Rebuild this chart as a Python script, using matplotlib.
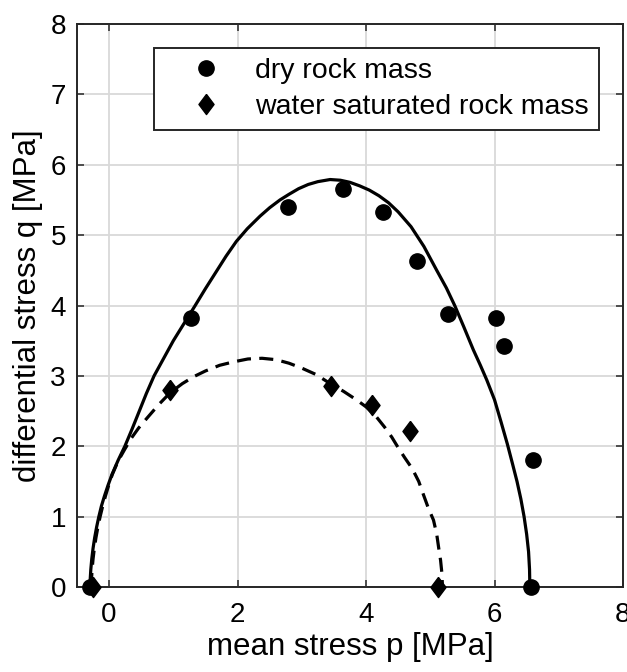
import matplotlib
matplotlib.use("Agg")
import matplotlib.pyplot as plt

plt.rcParams['font.family'] = ['Liberation Sans', 'DejaVu Sans']

# measured data (mean stress p, differential stress q)
dry_p = [-0.30, 1.27, 2.79, 3.64, 4.27, 4.79, 5.28, 6.02, 6.14, 6.60, 6.56]
dry_q = [0.00, 3.82, 5.40, 5.66, 5.33, 4.63, 3.88, 3.82, 3.43, 1.80, 0.00]

wet_p = [-0.25, 0.945, 3.46, 4.09, 4.68, 5.12]
wet_q = [0.00, 2.80, 2.85, 2.585, 2.21, 0.00]

# fitted curves
dry_fit_p = [-0.30, -0.295, -0.285, -0.27, -0.25, -0.225, -0.195, -0.16, -0.12, -0.07,
             -0.015, 0.045, 0.14, 0.245, 0.36, 0.47, 0.58, 0.70, 0.85, 1.00, 1.17, 1.34,
             1.50, 1.66, 1.82, 1.98, 2.15, 2.35, 2.50, 2.66, 2.80, 2.95, 3.10,
             3.25, 3.44, 3.60, 3.75, 3.90, 4.05, 4.20, 4.35, 4.50, 4.70, 4.90,
             5.10, 5.25, 5.38, 5.52, 5.67, 5.78, 5.88, 6.00, 6.10, 6.20, 6.28,
             6.35, 6.41, 6.46, 6.50, 6.53, 6.545, 6.55]
dry_fit_q = [0.00, 0.10, 0.25, 0.40, 0.55, 0.70, 0.85, 1.00, 1.15, 1.30,
             1.45, 1.60, 1.80, 2.00, 2.25, 2.50, 2.75, 3.00, 3.25, 3.50, 3.75, 4.00,
             4.24, 4.47, 4.70, 4.91, 5.09, 5.27, 5.39, 5.50, 5.58, 5.66, 5.72,
             5.76, 5.79, 5.78, 5.75, 5.70, 5.64, 5.56, 5.46, 5.33, 5.12, 4.84,
             4.50, 4.25, 4.00, 3.70, 3.37, 3.15, 2.94, 2.66, 2.35, 2.03, 1.75,
             1.50, 1.25, 1.00, 0.75, 0.50, 0.25, 0.00]

wet_fit_p = [-0.28, -0.275, -0.265, -0.25, -0.23, -0.205, -0.175, -0.14, -0.10, -0.055,
             -0.005, 0.05, 0.14, 0.245, 0.35, 0.46, 0.59, 0.77, 0.95, 1.14, 1.32, 1.50,
             1.72, 1.94, 2.16, 2.38, 2.60, 2.80, 3.00, 3.22, 3.46, 3.65, 3.85,
             4.00, 4.15, 4.29, 4.40, 4.50, 4.60, 4.72, 4.82, 4.89, 4.97, 5.05,
             5.10, 5.13, 5.16, 5.18, 5.19]
wet_fit_q = [0.00, 0.10, 0.25, 0.40, 0.55, 0.70, 0.85, 1.00, 1.15, 1.30,
             1.45, 1.60, 1.79, 1.96, 2.12, 2.26, 2.40, 2.59, 2.76, 2.89, 2.99, 3.07,
             3.15, 3.20, 3.24, 3.25, 3.23, 3.18, 3.11, 3.02, 2.88, 2.78, 2.66,
             2.56, 2.43, 2.27, 2.13, 1.98, 1.84, 1.68, 1.50, 1.32, 1.12, 0.95,
             0.75, 0.56, 0.38, 0.20, 0.00]

legend_labels = ["dry rock mass", "water saturated rock mass"]
x_ticks = [0, 2, 4, 6, 8]
y_ticks = [0, 1, 2, 3, 4, 5, 6, 7, 8]

W, H = 627, 672
fig = plt.figure(figsize=(W / 100, H / 100), dpi=100)
ax = fig.add_axes([77 / W, 1 - 587 / H, (623 - 77) / W, (587 - 24) / H])

dark = '#262626'
diamond = [(0, 1), (0.75, 0), (0, -1), (-0.75, 0), (0, 1)]

ax.plot(dry_fit_p, dry_fit_q, color='black', lw=2.3, solid_joinstyle='round', zorder=3)
ax.plot(wet_fit_p, wet_fit_q, color='black', lw=2.3, dashes=(4.4, 2.6), zorder=3)
ax.plot(dry_p, dry_q, linestyle='none', marker='o', ms=11, color='black',
        label=legend_labels[0], clip_on=False, zorder=4)
ax.plot(wet_p, wet_q, linestyle='none', marker=diamond, ms=14.5, color='black',
        label=legend_labels[1], clip_on=False, zorder=5)

ax.set_xlim(-0.5, 8)
ax.set_ylim(0, 8)
ax.set_xticks(x_ticks)
ax.set_yticks(y_ticks)
ax.grid(True, color='#d9d9d9', lw=1.3)
ax.set_axisbelow(True)
for s in ax.spines.values():
    s.set_color(dark)
    s.set_linewidth(1.4)
ax.tick_params(direction='in', length=5, width=1.1, color=dark, top=True, right=True,
               labelsize=20, labelcolor='black')
ax.tick_params(axis='x', pad=11)
ax.tick_params(axis='y', pad=8)

ax.set_xlabel('mean stress p [MPa]', fontsize=22.5, labelpad=3)
ax.set_ylabel('differential stress q [MPa]', fontsize=22.5, labelpad=5)

leg = ax.legend(loc='upper right', bbox_to_anchor=(0.956, 0.957), borderaxespad=0,
                fontsize=20.5, frameon=True, fancybox=False, numpoints=1,
                handlelength=2.95, handletextpad=0.25, borderpad=0.35,
                labelspacing=0.33)
leg.get_frame().set_edgecolor(dark)
leg.get_frame().set_linewidth(1.4)
leg.get_frame().set_facecolor('white')
leg.get_frame().set_alpha(1)

fig.savefig('out.png', dpi=100)
